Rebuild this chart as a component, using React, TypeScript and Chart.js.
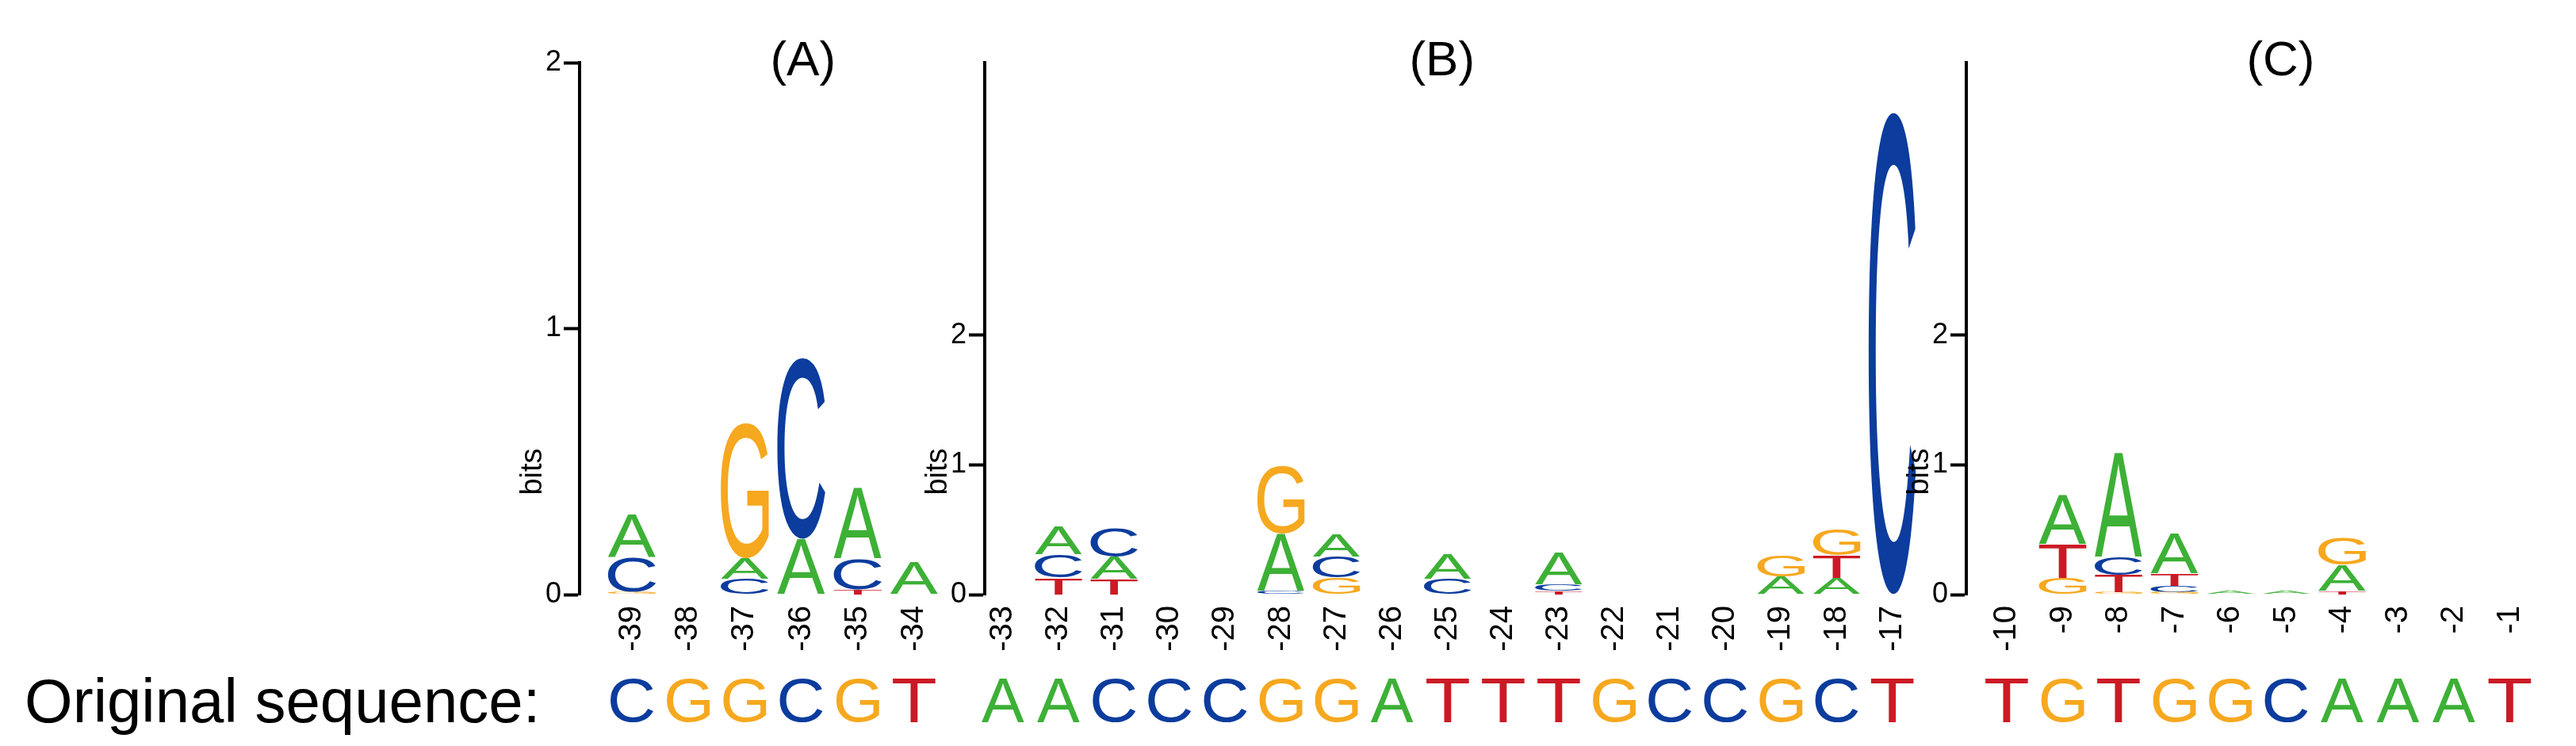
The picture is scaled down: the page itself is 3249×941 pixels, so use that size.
import React, { useEffect, useRef } from "react";
import { Chart, registerables } from "chart.js";

Chart.register(...registerables);

const FONT = '"Liberation Sans", Arial, Helvetica, sans-serif';

const BASES = ["A", "C", "G", "T"];
const BASE_COLORS: Record<string, string> = {
  A: "#3DB036",
  C: "#0C3C9D",
  G: "#F6A81F",
  T: "#CB1A25",
};
const Y_TICKS = [0, 1, 2];
const SEQ_LABEL = "Original sequence:";

// ---- Panel (A) ----
const TITLE_A = "(A)";
const POS_A = [-39, -38, -37, -36, -35, -34];
const BITS_A_A = [0.16, 0, 0.075, 0.21, 0.265, 0.12];
const BITS_A_C = [0.13, 0, 0.06, 0.68, 0.115, 0];
const BITS_A_G = [0.01, 0, 0.505, 0, 0, 0];
const BITS_A_T = [0, 0, 0, 0, 0.02, 0];
const SEQ_A = ["C", "G", "G", "C", "G", "T"];

// ---- Panel (B) ----
const TITLE_B = "(B)";
const POS_B = [-33, -32, -31, -30, -29, -28, -27, -26, -25, -24, -23, -22, -21, -20, -19, -18, -17];
const BITS_B_A = [0, 0.21, 0.17, 0, 0, 0.44, 0.17, 0, 0.19, 0, 0.24, 0, 0, 0, 0.14, 0.13, 0];
const BITS_B_C = [0, 0.18, 0.22, 0, 0, 0.03, 0.16, 0, 0.12, 0, 0.05, 0, 0, 0, 0, 0, 3.72];
const BITS_B_G = [0, 0, 0, 0, 0, 0.52, 0.13, 0, 0, 0, 0, 0, 0, 0, 0.16, 0.2, 0];
const BITS_B_T = [0, 0.13, 0.12, 0, 0, 0, 0, 0, 0, 0, 0.03, 0, 0, 0, 0, 0.17, 0];
const SEQ_B = ["A", "A", "C", "C", "C", "G", "G", "A", "T", "T", "T", "G", "C", "C", "G", "C", "T"];

// ---- Panel (C) ----
const TITLE_C = "(C)";
const POS_C = [-10, -9, -8, -7, -6, -5, -4, -3, -2, -1];
const BITS_C_A = [0, 0.38, 0.8, 0.31, 0.03, 0.03, 0.2, 0, 0, 0];
const BITS_C_C = [0, 0, 0.14, 0.05, 0, 0, 0, 0, 0, 0];
const BITS_C_G = [0, 0.13, 0.02, 0.02, 0, 0, 0.21, 0, 0, 0];
const BITS_C_T = [0, 0.26, 0.13, 0.09, 0, 0, 0.03, 0, 0, 0];
const SEQ_C = ["T", "G", "T", "G", "G", "C", "A", "A", "A", "T"];

// ---- page geometry ----
const PAGE_W = 3249;
const PAGE_H = 941;
const PLOT_TOP = 79;
const PLOT_BOTTOM = 750;
const X_AXIS_H = 80;
const Y_AXIS_W = 100;
const SEQ_BASELINE = 911;

type PanelDef = {
  title: string;
  positions: number[];
  bits: Record<string, number[]>;
  seq: string[];
  showLabel: boolean;
  canvasLeft: number;
  canvasWidth: number;
  axisX: number;
  unit: number;
  firstOffset: number;
  xMax: number;
  yMax: number;
  titleAt: number;
};

const PANELS: PanelDef[] = [
  {
    title: TITLE_A,
    positions: POS_A,
    bits: { A: BITS_A_A, C: BITS_A_C, G: BITS_A_G, T: BITS_A_T },
    seq: SEQ_A,
    showLabel: true,
    canvasLeft: 0,
    canvasWidth: 1205,
    axisX: 731,
    unit: 71.2,
    firstOffset: 66,
    xMax: -33.4,
    yMax: 2,
    titleAt: -35.97,
  },
  {
    title: TITLE_B,
    positions: POS_B,
    bits: { A: BITS_B_A, C: BITS_B_C, G: BITS_B_G, T: BITS_B_T },
    seq: SEQ_B,
    showLabel: false,
    canvasLeft: 1130,
    canvasWidth: 1310,
    axisX: 1242,
    unit: 70.1,
    firstOffset: 23,
    xMax: -16.45,
    yMax: 4.1,
    titleAt: -25.1,
  },
  {
    title: TITLE_C,
    positions: POS_C,
    bits: { A: BITS_C_A, C: BITS_C_C, G: BITS_C_G, T: BITS_C_T },
    seq: SEQ_C,
    showLabel: false,
    canvasLeft: 2360,
    canvasWidth: 889,
    axisX: 2480,
    unit: 70.5,
    firstOffset: 51,
    xMax: -0.45,
    yMax: 4.1,
    titleAt: -5.1,
  },
];

function drawGlyph(
  ctx: CanvasRenderingContext2D,
  ch: string,
  color: string,
  left: number,
  top: number,
  w: number,
  h: number,
  weight: string
) {
  if (w <= 0 || h <= 0) return;
  ctx.save();
  ctx.font = `${weight} 200px ${FONT}`;
  ctx.textAlign = "left";
  ctx.textBaseline = "alphabetic";
  const m = ctx.measureText(ch);
  const gl = m.actualBoundingBoxLeft;
  const gr = m.actualBoundingBoxRight;
  const ga = m.actualBoundingBoxAscent;
  const gd = m.actualBoundingBoxDescent;
  const gw = gl + gr;
  const gh = ga + gd;
  ctx.translate(left, top);
  ctx.scale(w / gw, h / gh);
  ctx.fillStyle = color;
  ctx.fillText(ch, gl, ga);
  ctx.restore();
}

function LogoPanel({ panel }: { panel: PanelDef }) {
  const ref = useRef<HTMLCanvasElement | null>(null);

  useEffect(() => {
    if (!ref.current) return;
    const ranges: Record<string, any[]> = { A: [], C: [], G: [], T: [] };
    panel.positions.forEach((p, i) => {
      const order = BASES.map((b) => ({ b, h: panel.bits[b][i] })).sort((a, c) => a.h - c.h);
      let acc = 0;
      order.forEach(({ b, h }) => {
        ranges[b].push({ x: p, y: [acc, acc + h] });
        acc += h;
      });
    });

    const xMin = panel.positions[0] - panel.firstOffset / panel.unit;
    const chartW = (panel.xMax - xMin) * panel.unit;
    const padLeft = panel.axisX - panel.canvasLeft - Y_AXIS_W;
    const padRight = panel.canvasWidth - (panel.axisX - panel.canvasLeft) - chartW;
    const padBottom = PAGE_H - PLOT_BOTTOM - X_AXIS_H;

    const logoPlugin = {
      id: "logoLetters",
      afterDatasetsDraw(chart: any) {
        const ctx = chart.ctx as CanvasRenderingContext2D;
        chart.data.datasets.forEach((ds: any, di: number) => {
          const meta = chart.getDatasetMeta(di);
          meta.data.forEach((bar: any) => {
            const { x, y, base, width } = bar.getProps(["x", "y", "base", "width"], true);
            const top = Math.min(y, base);
            const h = Math.abs(base - y);
            if (h < 0.8) return;
            drawGlyph(ctx, ds.label, BASE_COLORS[ds.label], x - width / 2, top, width, h, "normal");
          });
        });
      },
      afterDraw(chart: any) {
        const ctx = chart.ctx as CanvasRenderingContext2D;
        const xs = chart.scales.x;
        const area = chart.chartArea;
        ctx.save();
        ctx.fillStyle = "#000";
        ctx.font = `62px ${FONT}`;
        ctx.textAlign = "center";
        ctx.textBaseline = "middle";
        ctx.fillText(panel.title, xs.getPixelForValue(panel.titleAt), 78);
        ctx.restore();

        ctx.save();
        ctx.fillStyle = "#000";
        ctx.font = `38px ${FONT}`;
        ctx.textAlign = "center";
        ctx.textBaseline = "middle";
        ctx.translate(area.left - 58, area.bottom - 155);
        ctx.rotate(-Math.PI / 2);
        ctx.fillText("bits", 0, 0);
        ctx.restore();

        panel.seq.forEach((b, i) => {
          const cx = xs.getPixelForValue(panel.positions[i]);
          drawGlyph(ctx, b, BASE_COLORS[b], cx - 27, SEQ_BASELINE - 55, 54, 55, "normal");
        });

        if (panel.showLabel) {
          ctx.save();
          ctx.fillStyle = "#000";
          ctx.font = `78px ${FONT}`;
          ctx.textAlign = "left";
          ctx.textBaseline = "alphabetic";
          ctx.fillText(SEQ_LABEL, 31 - panel.canvasLeft, SEQ_BASELINE);
          ctx.restore();
        }
      },
    };

    const chart = new Chart(ref.current, {
      type: "bar",
      data: {
        datasets: BASES.map((b) => ({
          label: b,
          data: ranges[b],
          backgroundColor: "rgba(0,0,0,0)",
          borderWidth: 0,
          grouped: false,
          barPercentage: 0.85,
          categoryPercentage: 1,
        })),
      } as any,
      options: {
        responsive: false,
        animation: false,
        devicePixelRatio: 1,
        events: [],
        layout: {
          padding: { left: padLeft, right: padRight, top: PLOT_TOP, bottom: padBottom },
        },
        plugins: {
          legend: { display: false },
          tooltip: { enabled: false },
          title: { display: false },
        },
        scales: {
          x: {
            type: "linear",
            offset: false,
            min: xMin,
            max: panel.xMax,
            grid: { display: false, drawTicks: false },
            border: { display: false },
            afterBuildTicks: (s: any) => {
              s.ticks = panel.positions.map((v) => ({ value: v }));
            },
            afterFit: (s: any) => {
              s.height = X_AXIS_H;
              s.paddingLeft = 0;
              s.paddingRight = 0;
            },
            ticks: {
              autoSkip: false,
              minRotation: 90,
              maxRotation: 90,
              padding: 14,
              color: "#000",
              font: { family: FONT, size: 40 },
              callback: (v: any) => String(v),
            },
          },
          y: {
            type: "linear",
            min: 0,
            max: panel.yMax,
            grid: {
              display: true,
              drawOnChartArea: false,
              drawTicks: true,
              tickLength: 20,
              tickWidth: 4,
              tickColor: "#000",
            },
            border: { display: true, color: "#000", width: 4 },
            afterBuildTicks: (s: any) => {
              s.ticks = Y_TICKS.map((v) => ({ value: v }));
            },
            afterFit: (s: any) => {
              s.width = Y_AXIS_W;
              s.paddingTop = 0;
              s.paddingBottom = 0;
            },
            ticks: {
              padding: 3,
              color: "#000",
              font: { family: FONT, size: 36 },
              callback: (v: any) => String(v),
            },
          },
        },
      } as any,
      plugins: [logoPlugin],
    });

    return () => chart.destroy();
  }, [panel]);

  return (
    <canvas
      ref={ref}
      width={panel.canvasWidth}
      height={PAGE_H}
      style={{ position: "absolute", left: panel.canvasLeft, top: 0 }}
    />
  );
}

export default function App() {
  return (
    <div
      style={{
        position: "absolute",
        left: 0,
        top: 0,
        width: PAGE_W,
        height: PAGE_H,
        background: "#fff",
        overflow: "hidden",
      }}
    >
      {PANELS.map((p) => (
        <LogoPanel key={p.title} panel={p} />
      ))}
    </div>
  );
}
